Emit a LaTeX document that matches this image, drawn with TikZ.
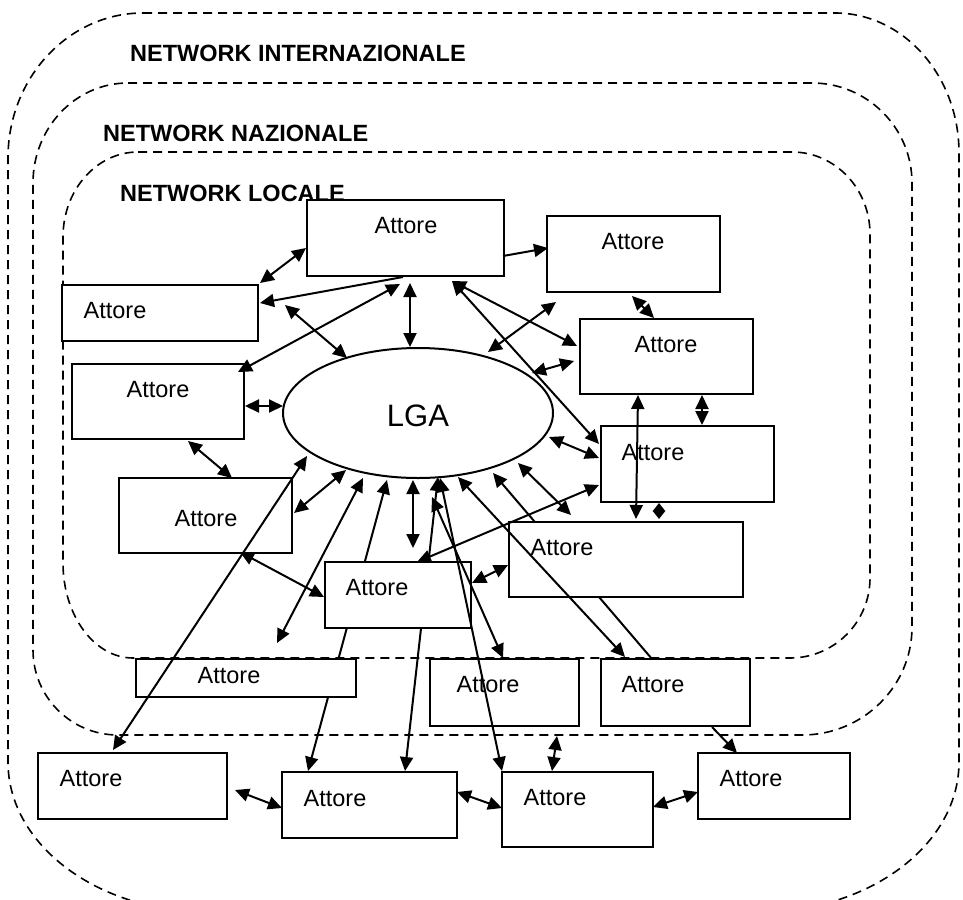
\documentclass[tikz,border=0pt]{standalone}
\usepackage{fontspec}
\setmainfont{Liberation Sans}
\usetikzlibrary{arrows.meta,shapes.geometric}

\tikzset{
  region/.style={dashed, dash pattern=on 9pt off 6pt, line width=1.6pt},
  regionlabel/.style={font=\bfseries\fontsize{23.5}{26}\selectfont, anchor=base west, inner sep=0pt},
  actor/.style={draw, fill=white, line width=2pt, rectangle, inner sep=0pt},
  actortext/.style={font=\fontsize{23.5}{26}\selectfont, anchor=base, inner sep=0pt},
  hub/.style={draw, fill=white, line width=2pt, ellipse, inner sep=0pt},
  tip/.style={>={Triangle[length=14pt,width=13pt]}},
  both/.style={tip, <->, line width=2pt},
  one/.style={tip, ->, line width=2pt},
  stub/.style={>={Triangle[length=8pt,width=12pt]}, <->, line width=2pt},
}

% actor box: name, x1, y1, x2, y2, label x, label baseline y
\newcommand{\actorbox}[7]{%
  \node[actor, minimum width={#4-#2}, minimum height={#5-#3}] (#1) at ({(#2+#4)/2},{(#3+#5)/2}) {};
  \node[actortext] (#1t) at (#6,#7) {Attore};}

\begin{document}
\begin{tikzpicture}[x=1pt, y=-1pt]
\useasboundingbox (0,0) rectangle (963,899);

% nested network regions
\draw[region] (143,13) -- (835,13)
  arc[start angle=270, end angle=360, x radius=124, y radius=140] -- (959,762)
  arc[start angle=0, end angle=90, x radius=200, y radius=150] -- (208,912)
  arc[start angle=90, end angle=180, x radius=200, y radius=150] -- (8,158)
  arc[start angle=180, end angle=270, x radius=135, y radius=145] -- cycle;
\draw[region] (128,83) -- (812,83)
  arc[start angle=270, end angle=360, x radius=100, y radius=100] -- (912,627)
  arc[start angle=0, end angle=90, x radius=110, y radius=108] -- (118,735)
  arc[start angle=90, end angle=180, x radius=85, y radius=85] -- (33,183)
  arc[start angle=180, end angle=270, x radius=95, y radius=100] -- cycle;
\draw[region] (138,152) -- (792,152)
  arc[start angle=270, end angle=360, x radius=78, y radius=82] -- (870,578)
  arc[start angle=0, end angle=90, x radius=80, y radius=80] -- (133,658)
  arc[start angle=90, end angle=180, x radius=70, y radius=95] -- (63,237)
  arc[start angle=180, end angle=270, x radius=75, y radius=85] -- cycle;

\node[regionlabel] (lint) at (130,61) {NETWORK INTERNAZIONALE};
\node[regionlabel] (lnaz) at (103,141) {NETWORK NAZIONALE};
\node[regionlabel] (lloc) at (120,201) {NETWORK LOCALE};

% connector end points
\coordinate (p1a) at (260,283);  \coordinate (p1b) at (306,248);
\coordinate (p2a) at (403,277);  \coordinate (p2b) at (260,303);
\coordinate (p3a) at (285,305);  \coordinate (p3b) at (347,358);
\coordinate (p4a) at (238,372);  \coordinate (p4b) at (400,284);
\coordinate (p5a) at (410,283);  \coordinate (p5b) at (410,347);
\coordinate (p6a) at (452,281);  \coordinate (p6b) at (577,346);
\coordinate (p7a) at (452,281);  \coordinate (p7b) at (599,444);
\coordinate (p8a) at (488,352);  \coordinate (p8b) at (556,302);
\coordinate (p9a) at (532,373);  \coordinate (p9b) at (574,361);
\coordinate (p10a) at (503,256); \coordinate (p10b) at (548,248);
\coordinate (p11a) at (632,296); \coordinate (p11b) at (654,318);
\coordinate (p12a) at (638,395); \coordinate (p12b) at (636,519);
\coordinate (p13a) at (702,395); \coordinate (p13b) at (702,425);
\coordinate (p14a) at (659,503); \coordinate (p14b) at (659,519);
\coordinate (p15a) at (549,437); \coordinate (p15b) at (599,458);
\coordinate (p16a) at (417,562); \coordinate (p16b) at (599,485);
\coordinate (p17a) at (518,463); \coordinate (p17b) at (571,515);
\coordinate (p18a) at (652,659); \coordinate (p18b) at (493,473);
\coordinate (p19a) at (458,477); \coordinate (p19b) at (625,657);
\coordinate (p20a) at (245,406); \coordinate (p20b) at (283,406);
\coordinate (p21a) at (188,441); \coordinate (p21b) at (232,478);
\coordinate (p22a) at (294,513); \coordinate (p22b) at (346,470);
\coordinate (p23a) at (307,456); \coordinate (p23b) at (113,750);
\coordinate (p24a) at (240,552); \coordinate (p24b) at (324,597);
\coordinate (p25a) at (363,478); \coordinate (p25b) at (277,643);
\coordinate (p26a) at (387,480); \coordinate (p26b) at (308,771);
\coordinate (p27a) at (413,480); \coordinate (p27b) at (413,548);
\coordinate (p28a) at (438,477); \coordinate (p28b) at (405,771);
\coordinate (p29a) at (440,478); \coordinate (p29b) at (502,771);
\coordinate (p30a) at (432,497); \coordinate (p30b) at (503,658);
\coordinate (p31a) at (472,583); \coordinate (p31b) at (508,565);
\coordinate (p32a) at (235,790); \coordinate (p32b) at (282,808);
\coordinate (p33a) at (457,792); \coordinate (p33b) at (502,808);
\coordinate (p34a) at (653,807); \coordinate (p34b) at (698,792);
\coordinate (p35a) at (557,736); \coordinate (p35b) at (552,771);
\coordinate (p36a) at (712,727); \coordinate (p36b) at (737,753);

% links running behind the boxes
\draw[one] (p18a) -- (p18b);
\draw[both] (p26a) -- (p26b);
\draw[both] (p28a) -- (p28b);

% hub and actors
\node[hub, minimum width=270pt, minimum height=130pt] (lga) at (418,413) {};
\node[actortext, font=\fontsize{31}{34}\selectfont] (lgat) at (418,426) {LGA};

\actorbox{b1}{307}{200}{504}{276}{406}{233}
\actorbox{b2}{547}{216}{720}{292}{633}{249}
\actorbox{b3}{62}{285}{258}{341}{115}{318}
\actorbox{b4}{72}{364}{244}{439}{158}{397}
\actorbox{b5}{119}{478}{292}{553}{206}{526}
\actorbox{b6}{325}{562}{471}{628}{377}{595}
\actorbox{b7}{580}{319}{753}{394}{666}{352}
\actorbox{b8}{601}{426}{774}{502}{653}{460}
\actorbox{b9}{509}{522}{743}{597}{562}{555}
\actorbox{b10}{136}{659}{356}{697}{229}{683}
\actorbox{b11}{38}{753}{227}{819}{91}{786}
\actorbox{b12}{282}{772}{457}{838}{335}{806}
\actorbox{b13}{430}{659}{579}{726}{488}{692}
\actorbox{b14}{601}{659}{750}{726}{653}{692}
\actorbox{b15}{502}{772}{653}{847}{555}{805}
\actorbox{b16}{698}{753}{850}{819}{751}{786}

% links drawn over everything
\draw[both] (p1a) -- (p1b);
\draw[one]  (p2a) -- (p2b);
\draw[both] (p3a) -- (p3b);
\draw[both] (p4a) -- (p4b);
\draw[both] (p5a) -- (p5b);
\draw[both] (p6a) -- (p6b);
\draw[both] (p7a) -- (p7b);
\draw[both] (p8a) -- (p8b);
\draw[both] (p9a) -- (p9b);
\draw[one]  (p10a) -- (p10b);
\draw[both] (p11a) -- (p11b);
\draw[both] (p12a) -- (p12b);
\draw[both] (p13a) -- (p13b);
\draw[stub] (p14a) -- (p14b);
\draw[both] (p15a) -- (p15b);
\draw[both] (p16a) -- (p16b);
\draw[both] (p17a) -- (p17b);
\draw[both] (p19a) -- (p19b);
\draw[both] (p20a) -- (p20b);
\draw[both] (p21a) -- (p21b);
\draw[both] (p22a) -- (p22b);
\draw[both] (p23a) -- (p23b);
\draw[both] (p24a) -- (p24b);
\draw[both] (p25a) -- (p25b);
\draw[both] (p27a) -- (p27b);
\draw[both] (p29a) -- (p29b);
\draw[both] (p30a) -- (p30b);
\draw[both] (p31a) -- (p31b);
\draw[both] (p32a) -- (p32b);
\draw[both] (p33a) -- (p33b);
\draw[both] (p34a) -- (p34b);
\draw[both] (p35a) -- (p35b);
\draw[one]  (p36a) -- (p36b);
\end{tikzpicture}
\end{document}
